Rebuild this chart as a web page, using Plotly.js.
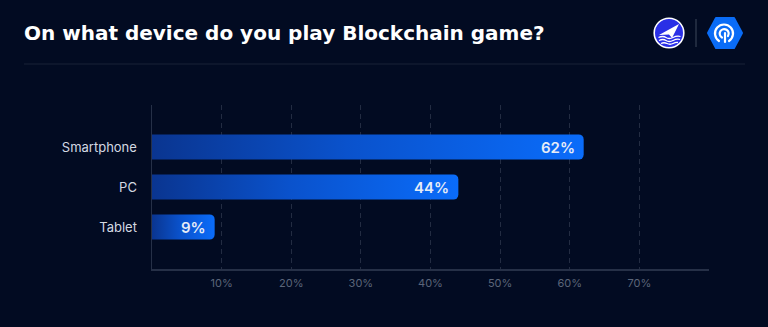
<!DOCTYPE html>
<html>
<head>
<meta charset="utf-8">
<script src="https://cdn.plot.ly/plotly-3.0.1.min.js"></script>
<style>
html,body{margin:0;padding:0;background:#020b22;}
#chart{width:768px;height:327px;}
</style>
</head>
<body>
<div id="chart"></div>
<script>
const categories = ['Smartphone', 'PC', 'Tablet'];
const shares = [62, 44, 9];
const tickValues = [10, 20, 30, 40, 50, 60, 70, 80];
const tickLabels = ['10%', '20%', '30%', '40%', '50%', '60%', '70%', ''];

const logoCircle = 'data:image/svg+xml;utf8,' + encodeURIComponent(
  '<svg xmlns="http://www.w3.org/2000/svg" width="64" height="64" viewBox="0 0 32 32">' +
  '<circle cx="16" cy="16" r="14.8" fill="#2a2fe6" stroke="#ffffff" stroke-width="1.6"/>' +
  '<path d="M6 18 L26 7 L19 21 L16 17.5 Z" fill="#ffffff"/>' +
  '<path d="M5.5 20.5 Q10 18.5 13 20.5 T20 20.5 T27.5 19.5" fill="none" stroke="#ffffff" stroke-width="1.3"/>' +
  '<path d="M6 23.5 Q10 21.5 13 23.5 T20 23.5 T27 22.5" fill="none" stroke="#ffffff" stroke-width="1.3"/>' +
  '<path d="M8 26.5 Q11 25 14 26.5 T20 26.5 T25 25.5" fill="none" stroke="#ffffff" stroke-width="1.3"/>' +
  '</svg>');
const logoHex = 'data:image/svg+xml;utf8,' + encodeURIComponent(
  '<svg xmlns="http://www.w3.org/2000/svg" width="72" height="72" viewBox="0 0 36 36">' +
  '<path d="M9 3 L27 3 L35 18 L27 33 L9 33 L1 18 Z" fill="#0a6cf6" stroke="#0a6cf6" stroke-width="2" stroke-linejoin="round"/>' +
  '<path d="M12 26 A9 9 0 1 1 22 26" fill="none" stroke="#ffffff" stroke-width="2.2" stroke-linecap="round"/>' +
  '<path d="M15 22.5 A4.5 4.5 0 1 1 21 21" fill="none" stroke="#ffffff" stroke-width="2.2" stroke-linecap="round"/>' +
  '<path d="M18 18 L18 27" fill="none" stroke="#ffffff" stroke-width="2.2" stroke-linecap="round"/>' +
  '</svg>');

// plot area in pixels: x 152..709, y 105..269
const W = 557, H = 164;
const px = x => (x - 152) / W;
const py = y => (269 - y) / H;

const trace = {
  type: 'bar',
  orientation: 'h',
  y: categories,
  x: shares,
  width: 0.63,
  marker: { color: '#0a5ee0', cornerradius: 5, line: { width: 0 } },
  hoverinfo: 'skip'
};

const annotations = categories.map((c, i) => ({
  x: shares[i], y: c, xref: 'x', yref: 'y',
  text: shares[i] + '%', showarrow: false,
  xanchor: 'right', xshift: -7, yshift: 0,
  font: { family: 'Inter, sans-serif', size: 15, color: '#e6ecf7', weight: 600 }
}));

const layout = {
  width: 768, height: 327,
  margin: { l: 152, r: 59, t: 105, b: 58 },
  paper_bgcolor: '#020b22',
  plot_bgcolor: '#020b22',
  showlegend: false,
  title: {
    text: 'On what device do you play Blockchain game?',
    x: 24 / 768, xref: 'container', xanchor: 'left',
    y: 1 - 33 / 327, yref: 'container', yanchor: 'middle',
    font: { family: '"DejaVu Sans", sans-serif', size: 20, color: '#ffffff', weight: 700 }
  },
  xaxis: {
    range: [0, 80], autorange: false,
    tickvals: tickValues, ticktext: tickLabels,
    showgrid: true, gridcolor: '#232c42', griddash: '5px,4px', gridwidth: 1,
    showline: true, linecolor: '#263047', linewidth: 1.5,
    zeroline: false, ticks: '',
    ticklabelstandoff: 3,
    tickfont: { family: 'Inter, sans-serif', size: 11, color: '#5b6579' },
    fixedrange: true
  },
  yaxis: {
    type: 'category', categoryorder: 'array', categoryarray: categories,
    range: [3.05, -1.05], autorange: false,
    showgrid: false, zeroline: false,
    showline: true, linecolor: '#263047', linewidth: 1.5,
    ticks: '', ticklabelstandoff: 11,
    tickfont: { family: 'Inter, sans-serif', size: 13, color: '#d4d9e2' },
    fixedrange: true
  },
  annotations: annotations,
  shapes: [
    { type: 'line', xref: 'paper', yref: 'paper', x0: px(24), x1: px(745), y0: py(64), y1: py(64),
      line: { color: '#121b31', width: 1.5 } },
    { type: 'line', xref: 'paper', yref: 'paper', x0: px(696), x1: px(696), y0: py(47), y1: py(19),
      line: { color: '#2a3449', width: 1.5 } }
  ],
  images: [
    { source: logoCircle, xref: 'paper', yref: 'paper', x: px(653), y: py(17),
      sizex: 32 / W, sizey: 32 / H, xanchor: 'left', yanchor: 'top', sizing: 'stretch', layer: 'above' },
    { source: logoHex, xref: 'paper', yref: 'paper', x: px(707), y: py(15),
      sizex: 36 / W, sizey: 36 / H, xanchor: 'left', yanchor: 'top', sizing: 'stretch', layer: 'above' }
  ]
};

Plotly.newPlot('chart', [trace], layout, { displayModeBar: false, staticPlot: true }).then(gd => {
  const svg = gd.querySelector('svg.main-svg');
  const ns = 'http://www.w3.org/2000/svg';
  let defs = svg.querySelector('defs');
  if (!defs) { defs = document.createElementNS(ns, 'defs'); svg.insertBefore(defs, svg.firstChild); }
  const grad = document.createElementNS(ns, 'linearGradient');
  grad.setAttribute('id', 'barGrad');
  grad.setAttribute('x1', '0'); grad.setAttribute('y1', '0');
  grad.setAttribute('x2', '1'); grad.setAttribute('y2', '0');
  [['0', '#0a3590'], ['0.45', '#0a52cc'], ['1', '#0a6cfa']].forEach(([o, c]) => {
    const s = document.createElementNS(ns, 'stop');
    s.setAttribute('offset', o); s.setAttribute('stop-color', c);
    grad.appendChild(s);
  });
  defs.appendChild(grad);
  gd.querySelectorAll('.barlayer .point path').forEach(p => {
    p.style.fill = 'url(#barGrad)';
  });
});
</script>
</body>
</html>
